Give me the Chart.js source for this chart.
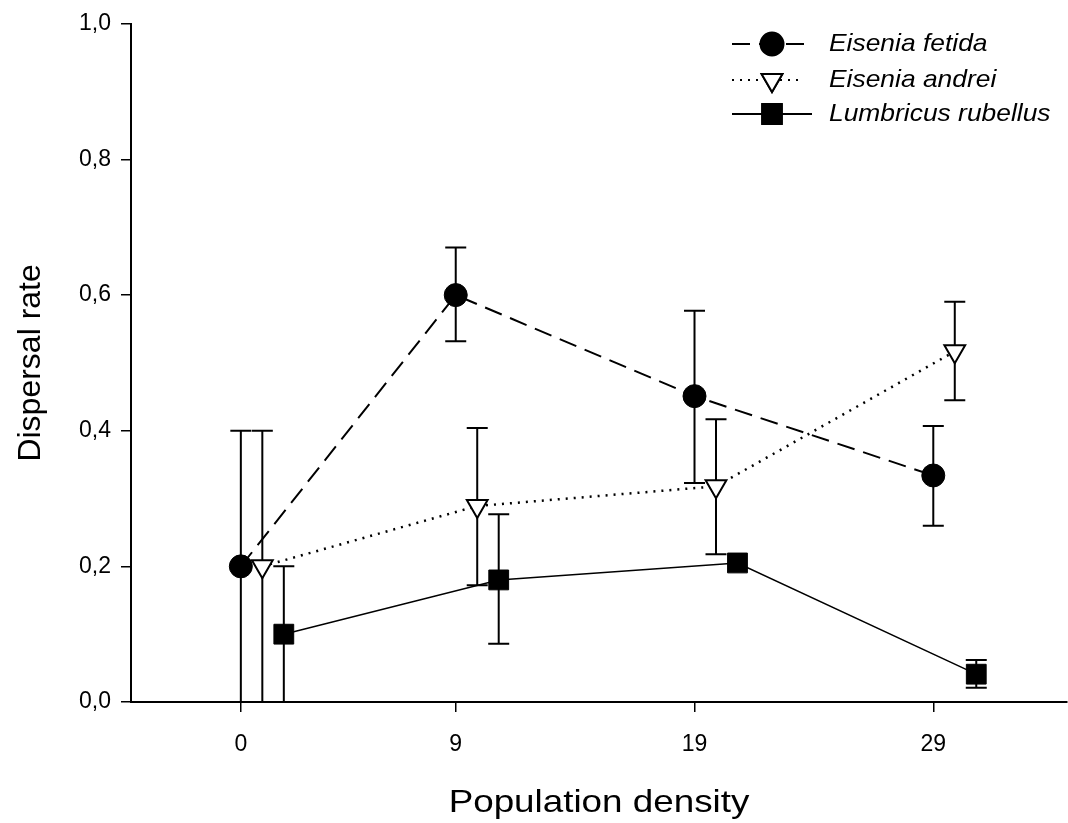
<!DOCTYPE html>
<html>
<head>
<meta charset="utf-8">
<script src="https://cdn.jsdelivr.net/npm/chart.js@4.4.1/dist/chart.umd.min.js"></script>
<style>
  html, body { margin: 0; padding: 0; background: #fff; }
  #wrap { width: 1068px; height: 823px; }
</style>
</head>
<body>
<div id="wrap"><canvas id="chart" width="1068" height="823"></canvas></div>
<script>
// x values (population density) and tick labels
const densities = [0, 9, 19, 29];
const xTickValues = [0, 9, 19, 29];
const yTickValues = [0, 0.2, 0.4, 0.6, 0.8, 1.0];

// Eisenia fetida: mean, upper and lower end of the error bar
const fetidaMean = [0.200, 0.600, 0.451, 0.334];
const fetidaHigh = [0.400, 0.670, 0.577, 0.407];
const fetidaLow  = [0.000, 0.532, 0.323, 0.260];

// Eisenia andrei
const andreiMean = [0.200, 0.289, 0.318, 0.517];
const andreiHigh = [0.400, 0.404, 0.417, 0.590];
const andreiLow  = [0.000, 0.172, 0.218, 0.445];

// Lumbricus rubellus
const rubellusMean = [0.100, 0.180, 0.205, 0.041];
const rubellusHigh = [0.200, 0.277, 0.205, 0.062];
const rubellusLow  = [0.000, 0.086, 0.205, 0.021];

const seriesNames = ["Eisenia fetida", "Eisenia andrei", "Lumbricus rubellus"];
const xTitle = "Population density";
const yTitle = "Dispersal rate";

const FONT = "'Liberation Sans', Arial, Helvetica, sans-serif";

// series are nudged sideways a little so the bars don't overlap
function points(means, dodge) {
  return densities.map((d, i) => ({ x: d + dodge, y: means[i] }));
}

// error bars drawn under the lines and markers
const errorBars = {
  id: "errorBars",
  beforeDatasetsDraw(chart) {
    const { ctx, scales: { x, y } } = chart;
    ctx.save();
    ctx.strokeStyle = "#000";
    ctx.lineWidth = 2;
    chart.data.datasets.forEach(ds => {
      ds.data.forEach((p, i) => {
        const hi = ds.errHigh[i], lo = ds.errLow[i];
        if (hi === lo) return;
        const px = x.getPixelForValue(p.x);
        const top = y.getPixelForValue(hi);
        const bot = y.getPixelForValue(lo);
        ctx.beginPath();
        ctx.moveTo(px, top);
        ctx.lineTo(px, bot);
        ctx.moveTo(px - 10.5, top);
        ctx.lineTo(px + 10.5, top);
        if (lo > 0) {
          ctx.moveTo(px - 10.5, bot);
          ctx.lineTo(px + 10.5, bot);
        }
        ctx.stroke();
      });
    });
    ctx.restore();
  }
};

// text in the original is a bit wider than normal, so stretch it slightly
function wideText(ctx, text, x, y, font, sx, align) {
  ctx.save();
  ctx.font = font;
  ctx.fillStyle = "#000";
  ctx.textAlign = align;
  ctx.translate(x, y);
  ctx.scale(sx, 1);
  ctx.fillText(text, 0, 0);
  ctx.restore();
}

// legend: line sample with marker, italic names; and the x axis title
const legendBox = {
  id: "legendBox",
  afterDraw(chart) {
    const ctx = chart.ctx;
    const area = chart.chartArea;
    const rows = [44, 80, 114];
    const x0 = 732, mx = 772, tx = 829;
    ctx.save();
    chart.data.datasets.forEach((ds, k) => {
      const yy = rows[k];
      const x1 = k === 2 ? 812 : 804;
      ctx.strokeStyle = "#000";
      ctx.lineWidth = 2;
      ctx.setLineDash(ds.borderDash || []);
      ctx.beginPath();
      ctx.moveTo(x0, yy);
      ctx.lineTo(x1, yy);
      ctx.stroke();
      ctx.setLineDash([]);
      Chart.helpers.drawPoint(ctx, {
        pointStyle: ds.pointStyle,
        radius: ds.pointRadius,
        rotation: ds.pointRotation || 0,
        borderWidth: ds.pointBorderWidth
      }, mx, yy);
      ctx.fillStyle = ds.pointBackgroundColor;
      ctx.strokeStyle = "#000";
      ctx.lineWidth = ds.pointBorderWidth;
      ctx.fill();
      ctx.stroke();
      ctx.textBaseline = "middle";
      wideText(ctx, seriesNames[k], tx, yy, "italic 24px " + FONT, 1.1, "left");
    });
    ctx.textBaseline = "alphabetic";
    wideText(ctx, xTitle, (area.left + area.right) / 2, 812, "32px " + FONT, 1.15, "center");
    ctx.restore();
  }
};

const datasets = [
  {
    label: seriesNames[0],
    data: points(fetidaMean, 0),
    errHigh: fetidaHigh, errLow: fetidaLow,
    borderColor: "#000", borderWidth: 2, borderDash: [18, 9],
    pointStyle: "circle", pointRadius: 11.5,
    pointBackgroundColor: "#000", pointBorderColor: "#000", pointBorderWidth: 1
  },
  {
    label: seriesNames[1],
    data: points(andreiMean, 0.9),
    errHigh: andreiHigh, errLow: andreiLow,
    borderColor: "#000", borderWidth: 2.5, borderDash: [2, 6],
    pointStyle: "triangle", pointRotation: 180, pointRadius: 12,
    pointBackgroundColor: "#fff", pointBorderColor: "#000", pointBorderWidth: 2
  },
  {
    label: seriesNames[2],
    data: points(rubellusMean, 1.8),
    errHigh: rubellusHigh, errLow: rubellusLow,
    borderColor: "#000", borderWidth: 1.5,
    pointStyle: "rect", pointRadius: 14,
    pointBackgroundColor: "#000", pointBorderColor: "#000", pointBorderWidth: 1
  }
];

new Chart(document.getElementById("chart"), {
  type: "scatter",
  data: { datasets: datasets.map(d => Object.assign({ showLine: true, pointHoverRadius: d.pointRadius }, d)) },
  options: {
    responsive: false,
    animation: false,
    layout: { autoPadding: false, padding: { top: 22, right: 1, left: 0, bottom: 0 } },
    plugins: { legend: { display: false }, tooltip: { enabled: false } },
    scales: {
      x: {
        type: "linear",
        min: -4.6,
        max: 34.6,
        afterBuildTicks: axis => { axis.ticks = xTickValues.map(v => ({ value: v })); },
        afterFit: s => { s.height = 121; s.paddingLeft = 0; s.paddingRight = 0; },
        grid: { drawOnChartArea: false, drawTicks: true, tickLength: 10, color: "#000", lineWidth: 1.5 },
        border: { color: "#000", width: 2 },
        ticks: { color: "#000", font: { size: 23, family: FONT }, padding: 19, maxRotation: 0 },
        title: { display: false }
      },
      y: {
        min: 0,
        max: 1,
        afterBuildTicks: axis => { axis.ticks = yTickValues.map(v => ({ value: v })); },
        afterFit: s => { s.width = 131; },
        grid: { drawOnChartArea: false, drawTicks: true, tickLength: 10, color: "#000", lineWidth: 1.5 },
        border: { color: "#000", width: 2 },
        ticks: {
          color: "#000", font: { size: 23, family: FONT }, padding: 10,
          callback: v => v.toFixed(1).replace(".", ",")
        },
        title: {
          display: true, text: yTitle, color: "#000",
          font: { size: 32, family: FONT }, padding: { top: 12, bottom: 0 }
        }
      }
    }
  },
  plugins: [errorBars, legendBox]
});
</script>
</body>
</html>
